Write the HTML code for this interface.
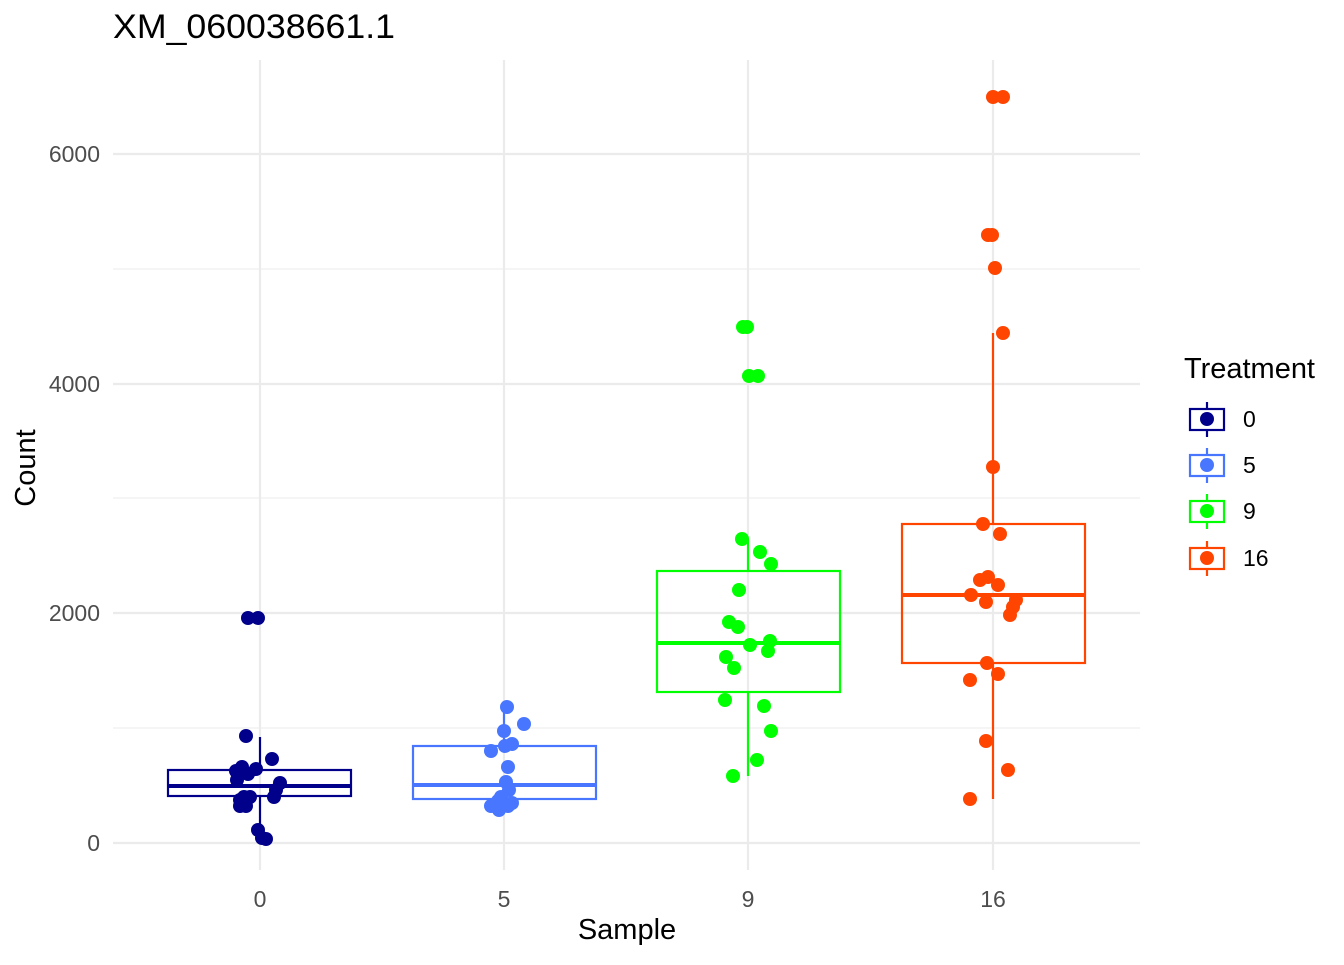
<!DOCTYPE html>
<html><head><meta charset="utf-8"><style>body{margin:0;background:#fff}</style></head><body>
<svg width="1344" height="960" xmlns="http://www.w3.org/2000/svg" font-family="Liberation Sans, sans-serif">
<rect width="1344" height="960" fill="#fff"/>
<g stroke="#ebebeb" stroke-width="1.1">
<line x1="113" x2="1140" y1="269" y2="269"/><line x1="113" x2="1140" y1="498" y2="498"/><line x1="113" x2="1140" y1="728" y2="728"/>
</g>
<g stroke="#ebebeb" stroke-width="2.2">
<line x1="113" x2="1140" y1="154" y2="154"/><line x1="113" x2="1140" y1="384" y2="384"/><line x1="113" x2="1140" y1="613" y2="613"/><line x1="113" x2="1140" y1="843" y2="843"/>
<line x1="260" x2="260" y1="60" y2="870"/><line x1="504" x2="504" y1="60" y2="870"/><line x1="748" x2="748" y1="60" y2="870"/><line x1="993" x2="993" y1="60" y2="870"/>
</g>
<g fill="none" stroke-width="2.2">
<g stroke="#00008b"><line x1="260" x2="260" y1="737" y2="770"/><line x1="260" x2="260" y1="796" y2="838"/><rect x="168" y="770" width="183" height="26"/><line x1="168" x2="351" y1="786" y2="786" stroke-width="4"/></g>
<g stroke="#4876ff"><line x1="504" x2="504" y1="707" y2="746"/><line x1="504" x2="504" y1="799" y2="805"/><rect x="413" y="746" width="183" height="53"/><line x1="413" x2="596" y1="785" y2="785" stroke-width="4"/></g>
<g stroke="#00ff00"><line x1="748" x2="748" y1="539" y2="571"/><line x1="748" x2="748" y1="692" y2="776"/><rect x="657" y="571" width="183" height="121"/><line x1="657" x2="840" y1="643" y2="643" stroke-width="4"/></g>
<g stroke="#ff4500"><line x1="993" x2="993" y1="333" y2="524"/><line x1="993" x2="993" y1="663" y2="799"/><rect x="902" y="524" width="183" height="139"/><line x1="902" x2="1085" y1="595" y2="595" stroke-width="4"/></g>
</g>
<g fill="#00008b">
<circle cx="248" cy="618" r="7"/><circle cx="258" cy="618" r="7"/><circle cx="246" cy="736" r="7"/><circle cx="272" cy="759" r="7"/><circle cx="242" cy="767" r="7"/><circle cx="236" cy="771" r="7"/><circle cx="256" cy="769" r="7"/><circle cx="248" cy="774" r="7"/><circle cx="237" cy="780" r="7"/><circle cx="280" cy="783" r="7"/><circle cx="276" cy="790" r="7"/><circle cx="274" cy="797" r="7"/><circle cx="244" cy="797" r="7"/><circle cx="250" cy="797" r="7"/><circle cx="240" cy="806" r="7"/><circle cx="246" cy="806" r="7"/><circle cx="258" cy="830" r="7"/><circle cx="262" cy="838" r="7"/><circle cx="266" cy="839" r="7"/><circle cx="240" cy="800" r="7"/>
</g>
<g fill="#4876ff">
<circle cx="507" cy="707" r="7"/><circle cx="524" cy="724" r="7"/><circle cx="504" cy="731" r="7"/><circle cx="512" cy="744" r="7"/><circle cx="505" cy="746" r="7"/><circle cx="491" cy="751" r="7"/><circle cx="508" cy="767" r="7"/><circle cx="506" cy="782" r="7"/><circle cx="509" cy="790" r="7"/><circle cx="501" cy="797" r="7"/><circle cx="498" cy="801" r="7"/><circle cx="491" cy="806" r="7"/><circle cx="499" cy="810" r="7"/><circle cx="512" cy="803" r="7"/><circle cx="508" cy="806" r="7"/>
</g>
<g fill="#00ff00">
<circle cx="743" cy="327" r="7"/><circle cx="747" cy="327" r="7"/><circle cx="749" cy="376" r="7"/><circle cx="758" cy="376" r="7"/><circle cx="742" cy="539" r="7"/><circle cx="760" cy="552" r="7"/><circle cx="771" cy="564" r="7"/><circle cx="739" cy="590" r="7"/><circle cx="729" cy="622" r="7"/><circle cx="738" cy="627" r="7"/><circle cx="750" cy="645" r="7"/><circle cx="770" cy="641" r="7"/><circle cx="768" cy="651" r="7"/><circle cx="726" cy="657" r="7"/><circle cx="734" cy="668" r="7"/><circle cx="725" cy="700" r="7"/><circle cx="764" cy="706" r="7"/><circle cx="771" cy="731" r="7"/><circle cx="757" cy="760" r="7"/><circle cx="733" cy="776" r="7"/>
</g>
<g fill="#ff4500">
<circle cx="993" cy="97" r="7"/><circle cx="1003" cy="97" r="7"/><circle cx="988" cy="235" r="7"/><circle cx="992" cy="235" r="7"/><circle cx="995" cy="268" r="7"/><circle cx="1003" cy="333" r="7"/><circle cx="993" cy="467" r="7"/><circle cx="983" cy="524" r="7"/><circle cx="1000" cy="534" r="7"/><circle cx="980" cy="580" r="7"/><circle cx="988" cy="577" r="7"/><circle cx="998" cy="585" r="7"/><circle cx="971" cy="595" r="7"/><circle cx="986" cy="602" r="7"/><circle cx="1016" cy="600" r="7"/><circle cx="1013" cy="607" r="7"/><circle cx="1010" cy="615" r="7"/><circle cx="987" cy="663" r="7"/><circle cx="970" cy="680" r="7"/><circle cx="998" cy="674" r="7"/><circle cx="986" cy="741" r="7"/><circle cx="1008" cy="770" r="7"/><circle cx="970" cy="799" r="7"/>
</g>
<g fill="#4d4d4d" font-size="23" text-anchor="end">
<text x="100" y="162">6000</text><text x="100" y="392">4000</text><text x="100" y="621">2000</text><text x="100" y="851">0</text>
</g>
<g fill="#4d4d4d" font-size="23" text-anchor="middle">
<text x="260" y="907">0</text><text x="504" y="907">5</text><text x="748" y="907">9</text><text x="993" y="907">16</text>
</g>
<text x="627" y="939" font-size="29" text-anchor="middle">Sample</text>
<text x="35" y="468" font-size="29" text-anchor="middle" transform="rotate(-90 35 468)">Count</text>
<text x="113" y="38" font-size="34" textLength="282" lengthAdjust="spacingAndGlyphs">XM_060038661.1</text>
<text x="1184" y="378" font-size="29" textLength="131" lengthAdjust="spacingAndGlyphs">Treatment</text>
<g stroke-width="2.2" fill="none">
<g stroke="#00008b"><line x1="1207" x2="1207" y1="402" y2="437"/><rect x="1190" y="409" width="34" height="21" fill="#fff"/><circle cx="1207" cy="419" r="7" fill="#00008b" stroke="none"/></g>
<g stroke="#4876ff"><line x1="1207" x2="1207" y1="448" y2="483"/><rect x="1190" y="455" width="34" height="21" fill="#fff"/><circle cx="1207" cy="465" r="7" fill="#4876ff" stroke="none"/></g>
<g stroke="#00ff00"><line x1="1207" x2="1207" y1="494" y2="529"/><rect x="1190" y="501" width="34" height="21" fill="#fff"/><circle cx="1207" cy="511" r="7" fill="#00ff00" stroke="none"/></g>
<g stroke="#ff4500"><line x1="1207" x2="1207" y1="541" y2="576"/><rect x="1190" y="548" width="34" height="21" fill="#fff"/><circle cx="1207" cy="558" r="7" fill="#ff4500" stroke="none"/></g>
</g>
<g font-size="23"><text x="1243" y="427">0</text><text x="1243" y="473">5</text><text x="1243" y="519">9</text><text x="1243" y="566">16</text></g>
</svg>
</body></html>
